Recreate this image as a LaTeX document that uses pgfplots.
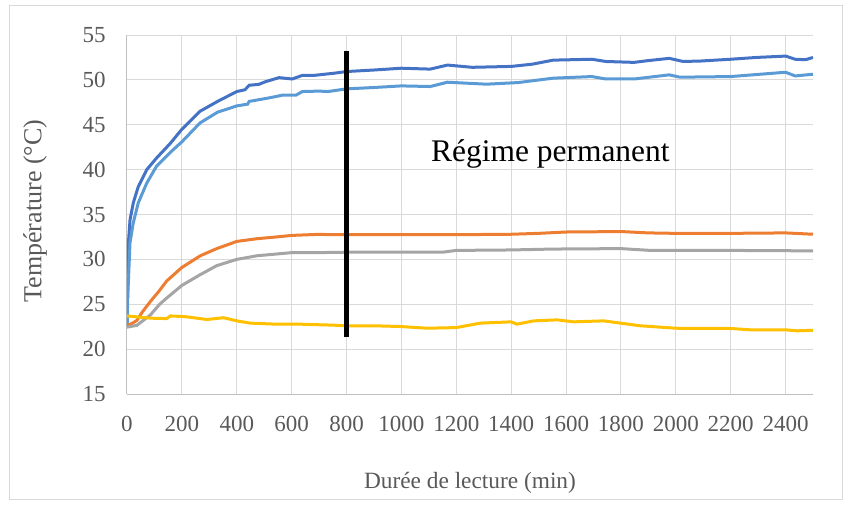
\documentclass[border=0pt]{standalone}
\usepackage{fontspec}
\setmainfont{Liberation Serif}
\usepackage{pgfplots}
\pgfplotsset{compat=1.18}

\definecolor{sdarkblue}{HTML}{4472C4}
\definecolor{slightblue}{HTML}{5B9BD5}
\definecolor{sorange}{HTML}{ED7D31}
\definecolor{sgray}{HTML}{A5A5A5}
\definecolor{syellow}{HTML}{FFC000}
\definecolor{gridc}{HTML}{D9D9D9}
\definecolor{axisc}{HTML}{BFBFBF}
\definecolor{labelc}{HTML}{595959}

\begin{document}
\begin{tikzpicture}
  % page = 852 x 504 px, 1 px = 0.75 pt, axis box at px (127..813, 35..394)
  \path[use as bounding box] (-95.25pt,-82.5pt) rectangle (543.75pt,295.5pt);
  \draw[gridc, line width=0.75pt] (-87.75pt,-79pt) rectangle (536.25pt,291pt);
  \begin{axis}[
    at={(0pt,0pt)}, anchor=south west,
    scale only axis,
    width=514.5pt, height=269.25pt,
    xmin=0, xmax=2500,
    ymin=15, ymax=55,
    xtick={0,200,...,2400},
    ytick={15,20,...,55},
    grid=major,
    major grid style={gridc, line width=0.75pt},
    axis lines*=left,
    axis line style={axisc, line width=0.75pt, -},
    major tick length=0pt,
    /pgf/number format/assume math mode=true,
    /pgf/number format/1000 sep={},
    ticklabel style={font=\fontsize{17.25}{20}\selectfont, text=labelc},
    xticklabel style={anchor=north, inner sep=0pt, yshift=-16.5pt},
    yticklabel style={anchor=east, inner sep=0pt, xshift=-15.75pt},
    xlabel={Durée de lecture (min)},
    ylabel={Température (°C)},
    xlabel style={font=\fontsize{17.5}{20}\selectfont, text=labelc,
      at={([yshift=-66.75pt]axis description cs:0.5,0)}, anchor=center},
    ylabel style={font=\fontsize{19.5}{22}\selectfont, text=labelc,
      at={([xshift=-69pt,yshift=2.5pt]axis description cs:0,0.5)}, anchor=center},
  ]

    % bleu fonce
    \addplot[sdarkblue, line width=2.25pt] coordinates {
      (0,22.5) (2,26) (5,31.8) (11,34.4) (23,36.3) (41,38.1) (72,40.0)
      (108,41.3) (157,42.9) (200,44.5) (266,46.5) (330,47.6) (400,48.7)
      (430,48.9) (445,49.4) (480,49.5) (505,49.8) (554,50.25) (602,50.1)
      (639,50.5) (681,50.5) (757,50.75) (800,50.93) (900,51.1) (1000,51.3)
      (1105,51.2) (1168,51.65) (1258,51.4) (1400,51.5) (1477,51.75)
      (1553,52.2) (1694,52.3) (1745,52.05) (1848,51.95) (1900,52.15)
      (1976,52.4) (2027,52.05) (2090,52.1) (2200,52.3) (2294,52.5)
      (2400,52.65) (2435,52.3) (2473,52.25) (2500,52.5)
    };
    % bleu clair
    \addplot[slightblue, line width=2.25pt] coordinates {
      (0,22.5) (3,26) (11,31.85) (23,34.1) (41,36.3) (72,38.5) (108,40.4)
      (157,41.9) (200,43.1) (266,45.2) (330,46.4) (400,47.1) (440,47.3)
      (445,47.6) (519,48.0) (567,48.3) (616,48.3) (639,48.7) (700,48.75)
      (732,48.7) (800,49.0) (900,49.15) (1000,49.33) (1105,49.26)
      (1168,49.74) (1310,49.52) (1425,49.7) (1553,50.19) (1694,50.37)
      (1745,50.1) (1848,50.1) (1976,50.56) (2015,50.3) (2200,50.37)
      (2400,50.85) (2435,50.44) (2500,50.63)
    };
    % orange
    \addplot[sorange, line width=2.25pt] coordinates {
      (0,22.6) (23,22.95) (36,23.2) (55,24.1) (85,25.3) (115,26.4)
      (145,27.6) (200,29.1) (267,30.4) (327,31.2) (400,32.0) (473,32.3)
      (545,32.5) (600,32.67) (691,32.78) (800,32.75) (1000,32.75)
      (1200,32.75) (1400,32.8) (1500,32.9) (1600,33.05) (1800,33.1)
      (1900,32.95) (2000,32.9) (2200,32.9) (2400,32.95) (2500,32.8)
    };
    % gris
    \addplot[sgray, line width=2.25pt] coordinates {
      (0,22.45) (36,22.65) (72,23.5) (85,23.8) (119,25.0) (145,25.7)
      (200,27.1) (267,28.3) (327,29.3) (400,30.0) (473,30.4) (545,30.6)
      (600,30.75) (691,30.75) (800,30.8) (1000,30.8) (1150,30.8)
      (1200,31.0) (1400,31.05) (1550,31.15) (1800,31.2) (1907,31.0)
      (2187,31.0) (2490,30.95) (2500,30.95)
    };
    % jaune
    \addplot[syellow, line width=2.25pt] coordinates {
      (0,23.7) (85,23.45) (145,23.4) (158,23.7) (218,23.6) (291,23.3)
      (352,23.5) (400,23.15) (448,22.9) (545,22.78) (630,22.78)
      (752,22.67) (800,22.6) (900,22.6) (996,22.52) (1093,22.33)
      (1200,22.4) (1288,22.9) (1400,23.04) (1421,22.78) (1482,23.15)
      (1567,23.26) (1628,23.04) (1737,23.15) (1798,22.9) (1871,22.6)
      (2000,22.33) (2054,22.3) (2200,22.3) (2272,22.15) (2400,22.15)
      (2442,22.04) (2500,22.1)
    };

    % limite du regime permanent
    \addplot[black, line width=3.5pt] coordinates {(800,21.3) (800,53.2)};

    \node[font=\fontsize{23.6}{28}\selectfont] at (axis cs:1543,41.7) {Régime permanent};
  \end{axis}
\end{tikzpicture}
\end{document}
